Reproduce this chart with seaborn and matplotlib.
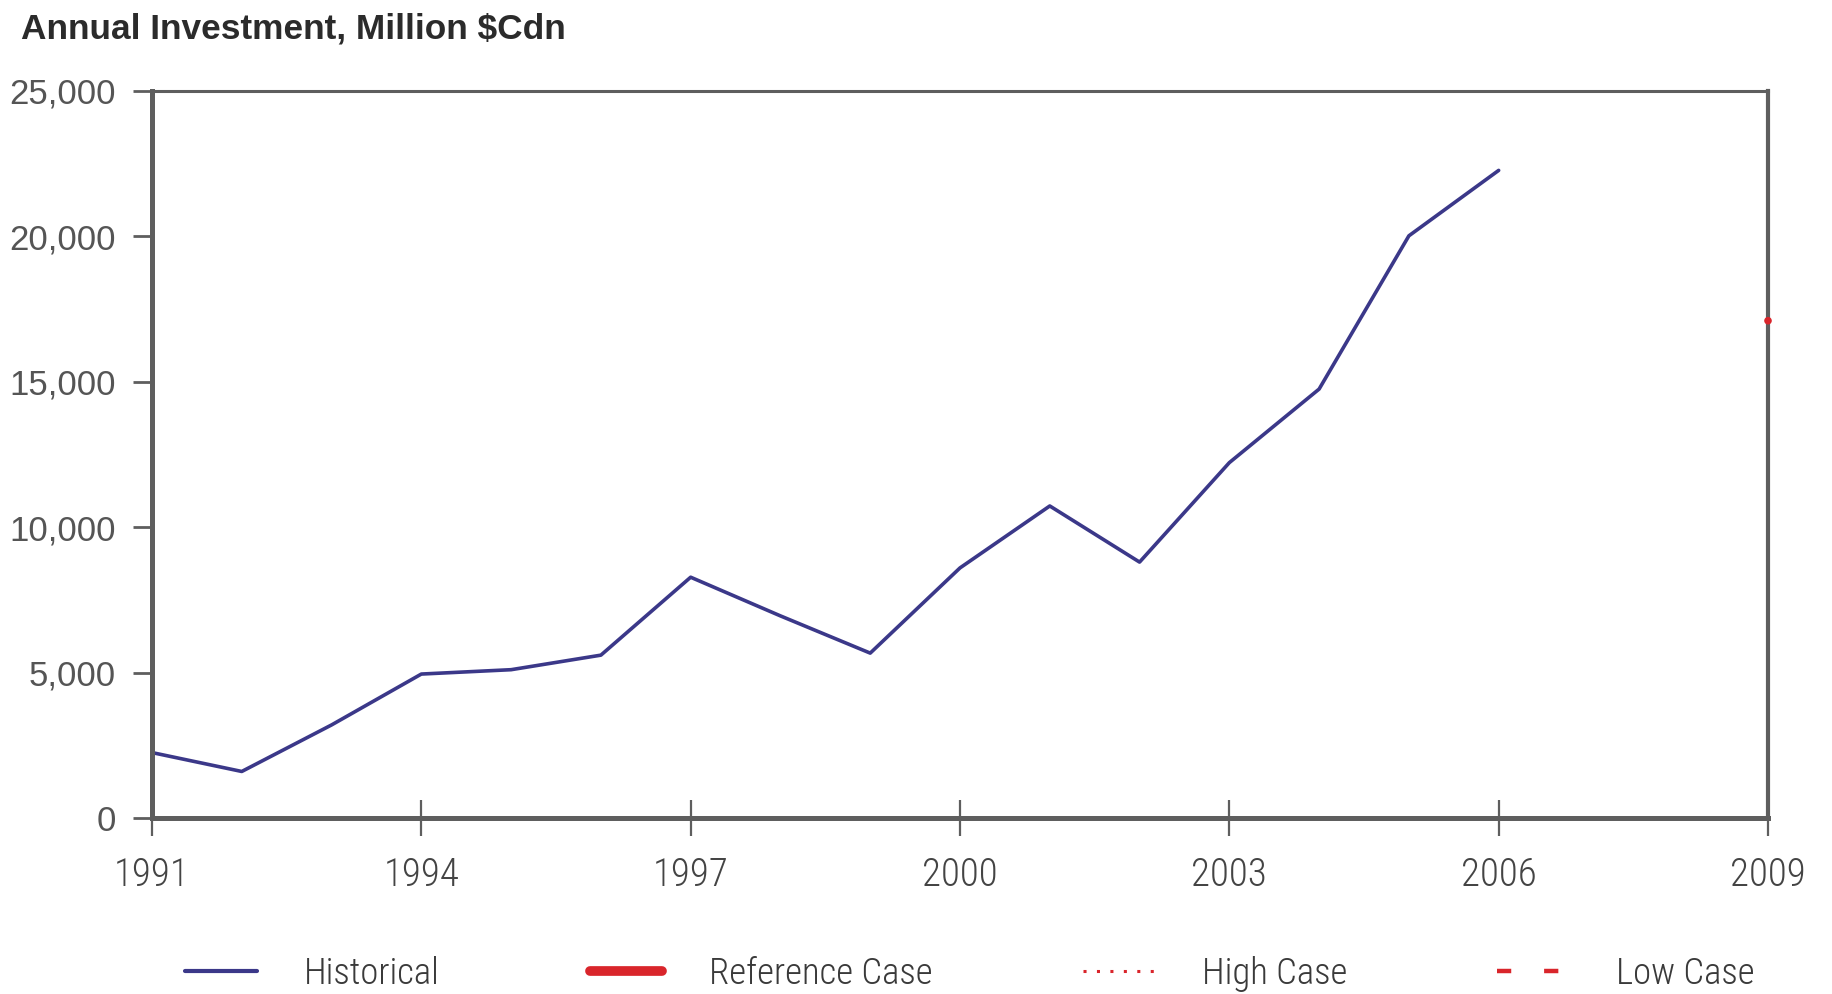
import matplotlib
matplotlib.use("Agg")
import matplotlib.pyplot as plt
from matplotlib import font_manager
from matplotlib.font_manager import FontProperties
from matplotlib.textpath import TextToPath
from matplotlib.lines import Line2D
from matplotlib.ticker import FuncFormatter
import seaborn as sns
import pandas as pd

# Historical annual investment, million $Cdn
years = [1991, 1992, 1993, 1994, 1995, 1996, 1997, 1998,
         1999, 2000, 2001, 2002, 2003, 2004, 2005, 2006]
investment = [2250, 1600, 3200, 4950, 5100, 5600, 8280, 6950,
              5670, 8600, 10730, 8800, 12220, 14750, 20020, 22270]

# Projection end point (reference case)
proj_years = [2009]
reference_case = [17100]

x_ticks = [1991, 1994, 1997, 2000, 2003, 2006, 2009]
y_ticks = [0, 5000, 10000, 15000, 20000, 25000]

legend_labels = ["Historical", "Reference Case", "High Case", "Low Case"]
title = "Annual Investment, Million $Cdn"

NAVY = "#3b3889"
RED = "#d9252b"
AXIS = "#5e5e5e"
DPI = 100


def narrow_font():
    """Pick a condensed sans face if one is installed."""
    names = {f.name for f in font_manager.fontManager.ttflist}
    for fam in ["Liberation Sans Narrow", "Roboto Condensed", "DejaVu Sans Condensed",
                "Open Sans Condensed", "Noto Sans Condensed", "Arial Narrow"]:
        if fam in names:
            return FontProperties(family=fam, weight="light")
    for f in font_manager.fontManager.ttflist:
        if f.name in ("DejaVu Sans", "Noto Sans", "Open Sans") and "condensed" in str(f.stretch):
            return FontProperties(family=f.name, stretch="condensed")
    return FontProperties(family="Liberation Sans")


def size_for_width(text, prop, width_px):
    """Font size (pt) at which text spans width_px pixels."""
    p = prop.copy()
    p.set_size(100)
    w, _, _ = TextToPath().get_text_width_height_descent(text, p, ismath=False)
    return 100 * width_px / (w * DPI / 72)


sns.set_theme(style="white")
plt.rcParams["font.family"] = ["Liberation Sans", "DejaVu Sans"]

cond = narrow_font()
xtick_size = size_for_width("1991", cond, 76)
legend_size = size_for_width("Historical", cond, 136)
title_prop = FontProperties(family="Liberation Sans", weight="bold")
title_size = size_for_width(title, title_prop, 545)

fig = plt.figure(figsize=(18.33, 9.94), dpi=DPI)
ax = fig.add_axes([152 / 1833, 1 - 818 / 994, (1768 - 152) / 1833, (818 - 91) / 994])

df = pd.DataFrame({"year": years, "investment": investment})
sns.lineplot(data=df, x="year", y="investment", ax=ax, color=NAVY, linewidth=2.6)

proj = pd.DataFrame({"year": proj_years, "value": reference_case})
sns.scatterplot(data=proj, x="year", y="value", ax=ax, color=RED, s=30,
                edgecolor="none", zorder=5, clip_on=False)

ax.set_xlim(1991, 2009)
ax.set_ylim(0, 25000)
ax.set_xticks(x_ticks)
ax.set_yticks(y_ticks)
ax.yaxis.set_major_formatter(FuncFormatter(lambda v, p: f"{int(v):,}"))
ax.set_xlabel("")
ax.set_ylabel("")

for side, lw in [("left", 3.6), ("bottom", 3.6), ("right", 3.0), ("top", 2.2)]:
    ax.spines[side].set_visible(True)
    ax.spines[side].set_color(AXIS)
    ax.spines[side].set_linewidth(lw)

ax.tick_params(axis="y", direction="out", length=14, width=2, color=AXIS,
               pad=12, labelsize=25, labelcolor="#555555", left=True)
ax.tick_params(axis="x", direction="inout", length=26, width=1.6, color=AXIS,
               pad=15, labelcolor="#444444", bottom=True)
for lab in ax.get_xticklabels():
    lab.set_fontproperties(cond)
    lab.set_fontsize(xtick_size)

fig.text(21 / 1833, 1 - 29 / 994, title, fontproperties=title_prop,
         fontsize=title_size, color="#2b2b2b", va="center", ha="left")

handles = [
    Line2D([], [], color=NAVY, linewidth=3),
    Line2D([], [], color=RED, linewidth=7),
    Line2D([], [], color=RED, linewidth=2.2, linestyle=(0, (1, 3.4))),
    Line2D([], [], color=RED, linewidth=3.2, linestyle=(0, (3.2, 7.4))),
]
fs_px = legend_size * DPI / 72
leg_prop = cond.copy()
leg_prop.set_size(legend_size)
leg = fig.legend(handles, legend_labels, ncol=4, loc="center left",
                 bbox_to_anchor=(185 / 1833, 1 - 974 / 994), frameon=False,
                 prop=leg_prop, handlelength=72 / fs_px,
                 handletextpad=47 / fs_px, columnspacing=150 / fs_px,
                 borderpad=0, borderaxespad=0)
for t in leg.get_texts():
    t.set_color("#3a3a3a")

fig.savefig("out.png", dpi=DPI, facecolor="white")
